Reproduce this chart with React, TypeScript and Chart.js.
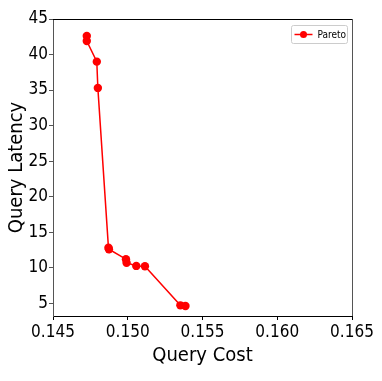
import React, { useEffect, useRef } from "react";
import { Chart, registerables } from "chart.js";

Chart.register(...registerables);

const seriesLabel = "Pareto";
const queryCost = [0.14726, 0.14726, 0.14793, 0.148, 0.14871, 0.14874, 0.14988, 0.14992, 0.15057, 0.15115, 0.15352, 0.15386];
const queryLatency = [42.6, 41.9, 39.0, 35.3, 12.8, 12.6, 11.2, 10.7, 10.25, 10.2, 4.7, 4.6];
const xTicks = [0.145, 0.15, 0.155, 0.16, 0.165];
const yTicks = [5, 10, 15, 20, 25, 30, 35, 40, 45];

const FONT = "'DejaVu Sans Condensed', 'DejaVu Sans', sans-serif";

const framePlugin = {
  id: "frame",
  afterDraw(chart: any) {
    const { ctx, chartArea: a } = chart;
    ctx.save();
    ctx.lineWidth = 1;
    ctx.strokeStyle = "#000";
    ctx.beginPath();
    ctx.moveTo(a.left, a.top + 0.5);
    ctx.lineTo(a.right, a.top + 0.5);
    ctx.stroke();
    ctx.strokeStyle = "#555";
    ctx.beginPath();
    ctx.moveTo(a.right + 0.5, a.top);
    ctx.lineTo(a.right + 0.5, a.bottom);
    ctx.stroke();
    // legend
    const bx = 291.5, by = 25.5, bw = 56, bh = 18;
    ctx.fillStyle = "rgba(255,255,255,0.8)";
    ctx.strokeStyle = "#ccc";
    ctx.beginPath();
    ctx.roundRect(bx, by, bw, bh, 2);
    ctx.fill();
    ctx.stroke();
    const ly = by + bh / 2;
    ctx.strokeStyle = "red";
    ctx.lineWidth = 1.5;
    ctx.beginPath();
    ctx.moveTo(bx + 3, ly);
    ctx.lineTo(bx + 21, ly);
    ctx.stroke();
    ctx.fillStyle = "red";
    ctx.beginPath();
    ctx.arc(bx + 12, ly, 3.5, 0, Math.PI * 2);
    ctx.fill();
    ctx.fillStyle = "#000";
    ctx.font = `10px ${FONT}`;
    ctx.textBaseline = "middle";
    ctx.textAlign = "left";
    ctx.fillText(chart.data.datasets[0].label, bx + 26, ly + 0.5);
    ctx.restore();
  },
};

export default function App() {
  const ref = useRef<HTMLCanvasElement>(null);
  useEffect(() => {
    if (!ref.current) return;
    const chart = new Chart(ref.current, {
      type: "line",
      data: {
        datasets: [
          {
            label: seriesLabel,
            data: queryCost.map((x, i) => ({ x, y: queryLatency[i] })),
            borderColor: "red",
            backgroundColor: "red",
            borderWidth: 1.5,
            pointRadius: 4.2,
            pointHoverRadius: 4.2,
            pointBorderWidth: 0,
            tension: 0,
          },
        ],
      },
      options: {
        animation: false,
        responsive: false,
        events: [],
        layout: { padding: { top: 19, right: 30, left: 0, bottom: 0 } },
        plugins: { legend: { display: false }, tooltip: { enabled: false } },
        scales: {
          x: {
            type: "linear",
            min: 0.145,
            max: 0.165,
            afterBuildTicks: (axis: any) => {
              axis.ticks = xTicks.map((v) => ({ value: v }));
            },
            afterFit: (scale: any) => {
              scale.height = 65;
            },
            grid: { drawOnChartArea: false, drawTicks: true, tickLength: 4, color: "#000" },
            border: { display: true, color: "#000", width: 1 },
            ticks: {
              color: "#000",
              font: { family: FONT, size: 17 },
              padding: 2,
              maxRotation: 0,
              autoSkip: false,
              callback: (v: any) => Number(v).toFixed(3),
            },
            title: {
              display: true,
              text: "Query Cost",
              color: "#000",
              font: { family: FONT, size: 20 },
              padding: { top: 0, bottom: 13 },
            },
          },
          y: {
            type: "linear",
            min: 3.2,
            max: 45,
            afterBuildTicks: (axis: any) => {
              axis.ticks = yTicks.map((v) => ({ value: v }));
            },
            afterFit: (scale: any) => {
              scale.width = 53;
            },
            grid: { drawOnChartArea: false, drawTicks: true, tickLength: 4, color: "#555" },
            border: { display: true, color: "#555", width: 1 },
            ticks: {
              color: "#000",
              font: { family: FONT, size: 17 },
              padding: 1,
              autoSkip: false,
              callback: (v: any) => String(v),
            },
            title: {
              display: true,
              text: "Query Latency",
              color: "#000",
              font: { family: FONT, size: 20 },
              padding: { top: 5, bottom: 0 },
            },
          },
        },
      },
      plugins: [framePlugin],
    });
    return () => chart.destroy();
  }, []);
  return (
    <div style={{ position: "fixed", left: 0, top: 0, width: 382, height: 381, background: "#fff" }}>
      <canvas ref={ref} width={382} height={381} style={{ display: "block" }} />
    </div>
  );
}
